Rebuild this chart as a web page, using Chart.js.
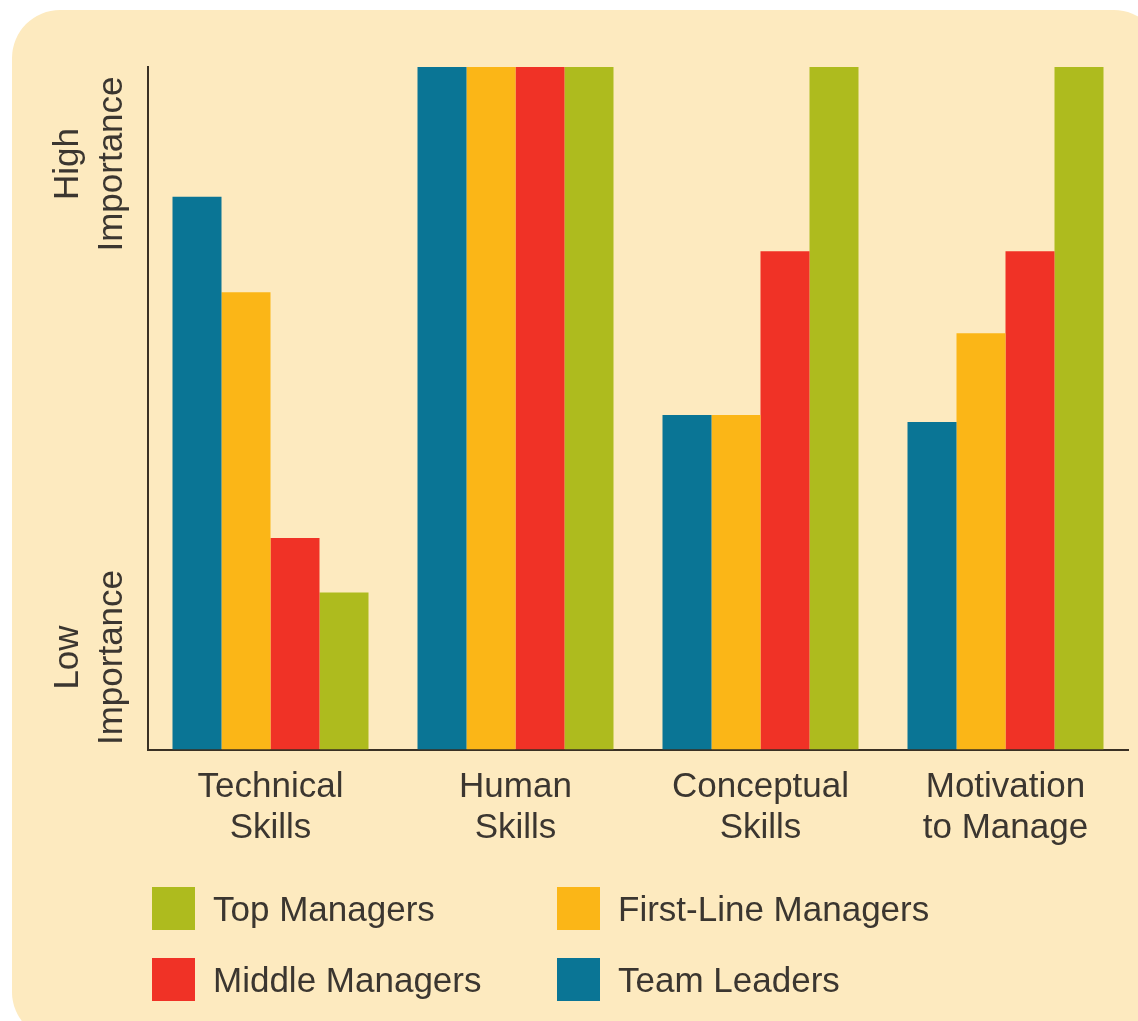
<!DOCTYPE html>
<html>
<head>
<meta charset="utf-8">
<script src="https://cdn.jsdelivr.net/npm/chart.js@4/dist/chart.umd.min.js"></script>
<style>
  body { margin: 0; background: #fff; font-family: "Liberation Sans", Arial, sans-serif; }
  #panel { position: absolute; left: 12px; top: 10px; width: 1150px; height: 1030px; background: #fdeabf; border-radius: 48px; }
  #wrap { position: absolute; left: 0; top: 0; width: 1138px; height: 1021px; }
  #legend { position: absolute; left: 0; top: 0; }
  .item { position: absolute; display: flex; align-items: center; font-size: 35px; color: #3b3630; white-space: nowrap; }
  .box { width: 43px; height: 43px; margin-right: 18px; }
</style>
</head>
<body>
<div id="panel"></div>
<div id="wrap"><canvas id="myChart"></canvas></div>
<div id="legend"></div>
<script>
var categories = [["Technical", "Skills"], ["Human", "Skills"], ["Conceptual", "Skills"], ["Motivation", "to Manage"]]
var seriesNames = ["Team Leaders", "First-Line Managers", "Middle Managers", "Top Managers"]
var teamLeaders = [81, 100, 49, 48]
var firstLine = [67, 100, 49, 61]
var middleManagers = [31, 100, 73, 73]
var topManagers = [23, 100, 100, 100]
var colors = ["#0a7595", "#fbb617", "#f03226", "#aebb1e"]
var axisLabels = [["High", "Importance"], ["Low", "Importance"]]
var legendOrder = ["Top Managers", "First-Line Managers", "Middle Managers", "Team Leaders"]

var textColor = "#3b3630"
var values = [teamLeaders, firstLine, middleManagers, topManagers]

// side labels drawn rotated next to the y axis
var sideLabels = {
    id: 'sideLabels',
    afterDraw(chart) {
        var ctx = chart.ctx
        var area = chart.chartArea
        ctx.save()
        ctx.fillStyle = textColor
        ctx.font = '35px "Liberation Sans", Arial, sans-serif'
        ctx.textAlign = 'center'
        ctx.textBaseline = 'alphabetic'
        var centers = [area.top + 97, area.bottom - 92]
        axisLabels.forEach(function(lines, i) {
            ctx.save()
            ctx.translate(0, centers[i])
            ctx.rotate(-Math.PI / 2)
            ctx.fillText(lines[0], 0, 78)
            ctx.fillText(lines[1], 0, 122)
            ctx.restore()
        })
        ctx.restore()
    }
}

var ctx = document.getElementById("myChart").getContext("2d")
var myChart = new Chart(ctx, {
    type: 'bar',
    data: {
        labels: categories,
        datasets: seriesNames.map(function(name, i) {
            return {
                label: name,
                data: values[i],
                backgroundColor: colors[i],
                borderWidth: 0,
                categoryPercentage: 0.8,
                barPercentage: 1.0
            }
        })
    },
    options: {
        responsive: true,
        maintainAspectRatio: false,
        animation: false,
        layout: { padding: { left: 148, top: 67, right: 10, bottom: 155 } },
        plugins: {
            legend: { display: false },
            tooltip: { enabled: false }
        },
        scales: {
            x: {
                grid: { display: false, drawTicks: false },
                border: { display: true, color: "#3a3124", width: 2 },
                ticks: {
                    color: textColor,
                    padding: 18,
                    maxRotation: 0,
                    font: { family: '"Liberation Sans", Arial, sans-serif', size: 35, lineHeight: 1.15 }
                }
            },
            y: {
                min: 0,
                max: 100,
                grid: { display: false, drawTicks: false },
                border: { display: true, color: "#3a3124", width: 2 },
                ticks: { display: false }
            }
        }
    },
    plugins: [sideLabels]
})

// html legend in the two-column layout of the original
function buildLegend() {
    var legend = document.getElementById("legend")
    var spots = [[152, 887], [557, 887], [152, 958], [557, 958]]
    legendOrder.forEach(function(name, i) {
        var ds = myChart.data.datasets.find(function(d) { return d.label == name })
        var item = document.createElement("div")
        item.className = "item"
        item.style.left = spots[i][0] + "px"
        item.style.top = spots[i][1] + "px"
        var box = document.createElement("span")
        box.className = "box"
        box.style.background = ds.backgroundColor
        item.appendChild(box)
        item.appendChild(document.createTextNode(name))
        legend.appendChild(item)
    })
}
buildLegend()
</script>
</body>
</html>
